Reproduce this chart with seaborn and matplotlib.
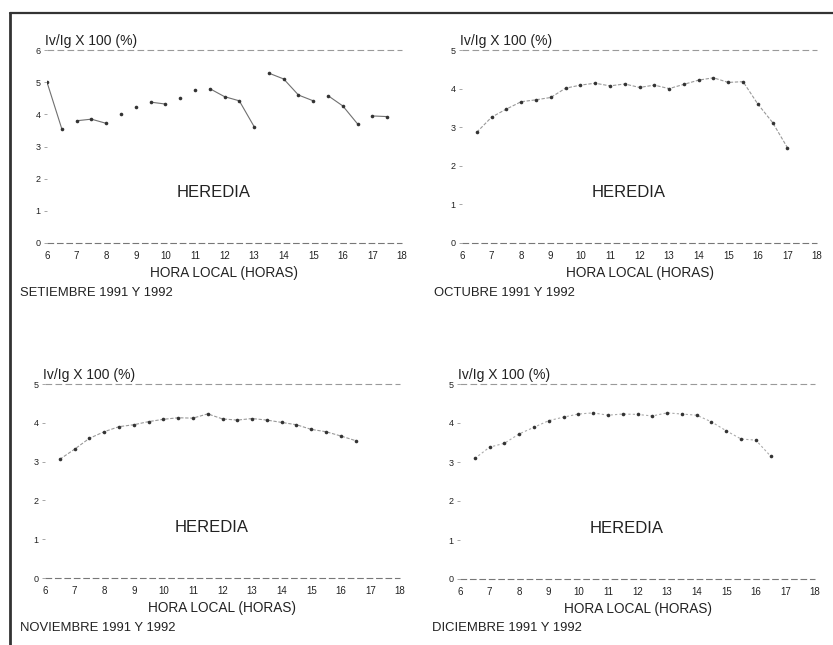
import numpy as np
import pandas as pd
import seaborn as sns
import matplotlib.pyplot as plt
from matplotlib.lines import Line2D

sns.set_style("white")
plt.rcParams["font.family"] = ["Liberation Sans", "DejaVu Sans"]

# Iv/Ig x 100 (%) by local hour, Heredia
sep_hours = [6.0, 6.5, 7.0, 7.5, 8.0, 8.5, 9.0, 9.5, 10.0, 10.5, 11.0, 11.5,
             12.0, 12.5, 13.0, 13.5, 14.0, 14.5, 15.0, 15.5, 16.0, 16.5, 17.0, 17.5]
sep_values = [5.0, 3.55, 3.8, 3.85, 3.72, 4.0, 4.22, 4.38, 4.32, 4.5, 4.76, 4.8,
              4.55, 4.42, 3.62, 5.28, 5.1, 4.6, 4.42, 4.58, 4.26, 3.7, 3.95, 3.93]
sep_trace = [1, 1, 2, 2, 2, 3, 4, 5, 5, 6, 7, 8,
             8, 8, 8, 9, 9, 9, 9, 10, 10, 10, 11, 11]

oct_hours = [6.5, 7.0, 7.5, 8.0, 8.5, 9.0, 9.5, 10.0, 10.5, 11.0, 11.5, 12.0,
             12.5, 13.0, 13.5, 14.0, 14.5, 15.0, 15.5, 16.0, 16.5, 17.0]
oct_values = [2.87, 3.26, 3.47, 3.66, 3.71, 3.77, 4.01, 4.09, 4.14, 4.07, 4.12, 4.03,
              4.09, 4.0, 4.11, 4.22, 4.28, 4.16, 4.18, 3.6, 3.12, 2.47]

nov_hours = [6.5, 7.0, 7.5, 8.0, 8.5, 9.0, 9.5, 10.0, 10.5, 11.0, 11.5,
             12.0, 12.5, 13.0, 13.5, 14.0, 14.5, 15.0, 15.5, 16.0, 16.5]
nov_values = [3.06, 3.32, 3.6, 3.77, 3.9, 3.95, 4.03, 4.09, 4.13, 4.12, 4.23,
              4.1, 4.07, 4.11, 4.07, 4.01, 3.95, 3.83, 3.77, 3.66, 3.54]

dec_hours = [6.5, 7.0, 7.5, 8.0, 8.5, 9.0, 9.5, 10.0, 10.5, 11.0, 11.5,
             12.0, 12.5, 13.0, 13.5, 14.0, 14.5, 15.0, 15.5, 16.0, 16.5]
dec_values = [3.09, 3.38, 3.48, 3.72, 3.89, 4.06, 4.15, 4.23, 4.26, 4.2, 4.23,
              4.22, 4.18, 4.26, 4.23, 4.2, 4.03, 3.8, 3.59, 3.56, 3.15]

month_labels = ["SETIEMBRE 1991 Y 1992", "OCTUBRE 1991 Y 1992",
                "NOVIEMBRE 1991 Y 1992", "DICIEMBRE 1991 Y 1992"]
y_tops = [6, 5, 5, 5]
x_ticks = list(range(6, 19))

station = "HEREDIA"
y_title = "Iv/Ig X 100 (%)"
x_title = "HORA LOCAL (HORAS)"

panels = [
    pd.DataFrame({"hora": sep_hours, "valor": sep_values, "tramo": sep_trace}),
    pd.DataFrame({"hora": oct_hours, "valor": oct_values, "tramo": 1}),
    pd.DataFrame({"hora": nov_hours, "valor": nov_values, "tramo": 1}),
    pd.DataFrame({"hora": dec_hours, "valor": dec_values, "tramo": 1}),
]
line_styles = ["-", (0, (3, 1.5)), (0, (3, 1.5)), (0, (2, 2))]
line_colors = ["#707070", "#999999", "#999999", "#aaaaaa"]

W, H = 833, 645
fig = plt.figure(figsize=(W / 100, H / 100), dpi=100)
fig.patch.set_facecolor("white")

# axes boxes in pixel units: left, top(ymax), right, bottom(y=0)
boxes = [(47, 50, 402, 243), (462, 50, 817, 243),
         (45, 384, 400, 578), (460, 384, 815, 579)]
caption_pos = [(20, 293), (434, 293), (20, 628), (432, 628)]

ink = "#222222"
for df, top, box, label, cap, ls, lc in zip(panels, y_tops, boxes, month_labels,
                                          caption_pos, line_styles, line_colors):
    l, t, r, b = box
    ax = fig.add_axes([l / W, 1 - b / H, (r - l) / W, (b - t) / H])
    sns.lineplot(data=df, x="hora", y="valor", units="tramo", estimator=None,
                 color=lc, lw=0.8, ls=ls, marker="o", markersize=2.6,
                 markeredgewidth=0, markerfacecolor="#333333",
                 ax=ax, legend=False)
    ax.set_xlim(6, 18)
    ax.set_ylim(0, top)
    for s in ax.spines.values():
        s.set_visible(False)
    ax.axhline(0, color="#777777", lw=0.8, ls=(0, (6, 2.5)), clip_on=False)
    ax.axhline(top, color="#9a9a9a", lw=0.8, ls=(0, (6, 3)), clip_on=False)
    ax.set_xticks(x_ticks)
    ax.set_xticklabels([str(v) for v in x_ticks])
    ax.set_yticks(range(0, top + 1))
    ax.tick_params(axis="x", length=0, pad=6, labelsize=7, labelcolor=ink)
    ax.tick_params(axis="y", length=2.5, width=0.6, color="#999999", pad=2,
                   labelsize=6.5, labelcolor=ink, left=True)
    ax.set_xlabel("")
    ax.set_ylabel("")
    ax.text(-0.005, 1.012, y_title, transform=ax.transAxes, ha="left",
            va="bottom", fontsize=10, color=ink)
    ax.text(0.47, 0.26, station, transform=ax.transAxes, ha="center",
            va="center", fontsize=12, color=ink)
    ax.text(0.5, -0.155, x_title, transform=ax.transAxes, ha="center",
            va="center", fontsize=9.8, color=ink)
    fig.text(cap[0] / W, 1 - cap[1] / H, label, ha="left", va="center",
             fontsize=9.4, color=ink)

# page frame (top and left edges)
fig.add_artist(Line2D([10 / W, 1.0], [1 - 13 / H, 1 - 13 / H],
                      transform=fig.transFigure, color="#333333", lw=1.6))
fig.add_artist(Line2D([10 / W, 10 / W], [0.0, 1 - 13 / H],
                      transform=fig.transFigure, color="#333333", lw=2.0))

fig.savefig("out.png", dpi=100, facecolor="white")
